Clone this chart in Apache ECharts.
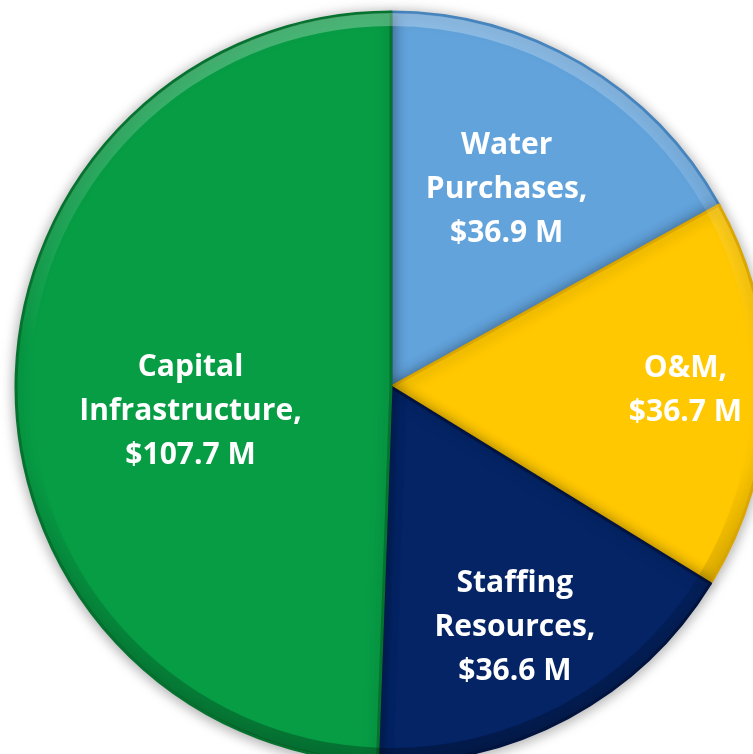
<!DOCTYPE html>
<html>
<head>
<meta charset="utf-8">
<script src="https://cdn.jsdelivr.net/npm/echarts@6/dist/echarts.min.js"></script>
<style>
  html, body { margin: 0; padding: 0; background: #ffffff; }
  #chart { width: 753px; height: 754px; }
</style>
</head>
<body>
<div id="chart"></div>
<script>
// Budget split by spending category ($ millions)
const categories = ['Water\nPurchases', 'O&M', 'Staffing\nResources', 'Capital\nInfrastructure'];
const amounts = [36.9, 36.7, 36.6, 107.7];
const fills = ['#62A3DC', '#FFC800', '#042466', '#079D45'];
const edges = ['#4684BE', '#DCA600', '#01133F', '#05722F'];
const labelShifts = [[19, -33], [104, -1], [34, 73], [-10, 28]];

const chart = echarts.init(document.getElementById('chart'), null, { renderer: 'canvas' });

const pieData = categories.map((name, i) => ({
  name: name,
  value: amounts[i],
  itemStyle: {
    color: fills[i],
    borderColor: edges[i],
    borderWidth: 3
  },
  label: { offset: labelShifts[i] }
}));

// Rim shading: light along the top of the outer edge, darker toward the bottom
const rimShade = new echarts.graphic.LinearGradient(0, 12, 0, 762, [
  { offset: 0, color: 'rgba(255,255,255,0.28)' },
  { offset: 0.45, color: 'rgba(255,255,255,0.0)' },
  { offset: 0.6, color: 'rgba(0,0,0,0.0)' },
  { offset: 1, color: 'rgba(0,0,0,0.28)' }
], true);

chart.setOption({
  animation: false,
  series: [{
    type: 'pie',
    center: [391, 387],
    radius: 375,
    startAngle: 90,
    clockwise: true,
    avoidLabelOverlap: false,
    itemStyle: {
      shadowBlur: 14,
      shadowColor: 'rgba(0,0,0,0.35)',
      shadowOffsetY: 2
    },
    label: {
      show: true,
      position: 'inside',
      color: '#ffffff',
      fontFamily: 'Open Sans',
      fontWeight: 'bold',
      fontSize: 30,
      lineHeight: 44,
      align: 'center',
      formatter: p => p.name + ',\n$' + p.value.toFixed(1) + ' M'
    },
    labelLine: { show: false },
    data: pieData
  }, {
    type: 'pie',
    silent: true,
    center: [391, 387],
    radius: [361, 374],
    startAngle: 90,
    clockwise: true,
    label: { show: false },
    labelLine: { show: false },
    itemStyle: { color: rimShade, borderWidth: 0 },
    data: categories.map((name, i) => ({ name: name, value: amounts[i] }))
  }]
});
</script>
</body>
</html>
